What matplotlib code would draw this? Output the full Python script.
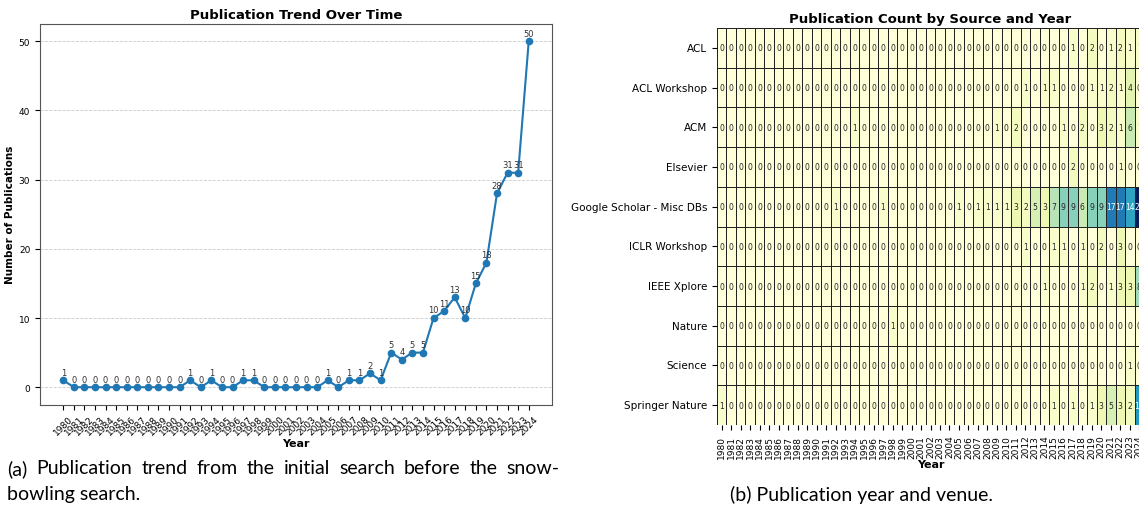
import matplotlib
matplotlib.use('Agg')
import matplotlib.pyplot as plt
import pandas as pd
import seaborn as sns

W, H = 1139, 510

# Years covered by both panels
years = list(range(1980, 2025))

# Publications per year from the initial search (left panel)
trend = [1, 0, 0, 0, 0, 0, 0, 0, 0, 0,
         0, 0, 1, 0, 1, 0, 0, 1, 1, 0,
         0, 0, 0, 0, 0, 1, 0, 1, 1, 2,
         1, 5, 4, 5, 5, 10, 11, 13, 10, 15,
         18, 28, 31, 31, 50]

# Per source counts (right panel), one list per source, 1980..2024
sources = ['ACL', 'ACL Workshop', 'ACM', 'Elsevier', 'Google Scholar - Misc DBs',
           'ICLR Workshop', 'IEEE Xplore', 'Nature', 'Science', 'Springer Nature']
acl =          [0,0,0,0,0,0,0,0,0,0, 0,0,0,0,0,0,0,0,0,0, 0,0,0,0,0,0,0,0,0,0, 0,0,0,0,0,0,0,1,0,2, 0,1,2,1,1]
acl_workshop = [0,0,0,0,0,0,0,0,0,0, 0,0,0,0,0,0,0,0,0,0, 0,0,0,0,0,0,0,0,0,0, 0,0,1,0,1,1,0,0,0,1, 1,2,1,4,0]
acm =          [0,0,0,0,0,0,0,0,0,0, 0,0,0,0,1,0,0,0,0,0, 0,0,0,0,0,0,0,0,0,1, 0,2,0,0,0,0,1,0,2,0, 3,2,1,6,1]
elsevier =     [0,0,0,0,0,0,0,0,0,0, 0,0,0,0,0,0,0,0,0,0, 0,0,0,0,0,0,0,0,0,0, 0,0,0,0,0,0,0,2,0,0, 0,0,1,0,0]
google =       [0,0,0,0,0,0,0,0,0,0, 0,0,1,0,0,0,0,1,0,0, 0,0,0,0,0,1,0,1,1,1, 1,3,2,5,3,7,9,9,6,9, 9,17,17,14,25]
iclr_workshop= [0,0,0,0,0,0,0,0,0,0, 0,0,0,0,0,0,0,0,0,0, 0,0,0,0,0,0,0,0,0,0, 0,0,1,0,0,1,1,0,1,0, 2,0,3,0,0]
ieee =         [0,0,0,0,0,0,0,0,0,0, 0,0,0,0,0,0,0,0,0,0, 0,0,0,0,0,0,0,0,0,0, 0,0,0,0,1,0,0,0,1,2, 0,1,3,3,8]
nature =       [0,0,0,0,0,0,0,0,0,0, 0,0,0,0,0,0,0,0,1,0, 0,0,0,0,0,0,0,0,0,0, 0,0,0,0,0,0,0,0,0,0, 0,0,0,0,0]
science =      [0,0,0,0,0,0,0,0,0,0, 0,0,0,0,0,0,0,0,0,0, 0,0,0,0,0,0,0,0,0,0, 0,0,0,0,0,0,0,0,0,0, 0,0,0,1,0]
springer =     [1,0,0,0,0,0,0,0,0,0, 0,0,0,0,0,0,0,0,0,0, 0,0,0,0,0,0,0,0,0,0, 0,0,0,0,0,1,0,1,0,1, 3,5,3,2,15]

counts = pd.DataFrame([acl, acl_workshop, acm, elsevier, google, iclr_workshop,
                       ieee, nature, science, springer], index=sources, columns=years)

fig = plt.figure(figsize=(W / 100, H / 100), dpi=100)

def px_axes(x0, y0, x1, y1):
    # axes from pixel box (top-left origin)
    return fig.add_axes([x0 / W, 1 - y1 / H, (x1 - x0) / W, (y1 - y0) / H])

# Left: trend line
ax1 = px_axes(40, 25, 552, 405.5)
ax1.plot(years, trend, marker='o', color='#1f77b4', markersize=4.5, linewidth=1.5)
for x, y in zip(years, trend):
    ax1.annotate(str(y), (x, y), textcoords='offset points', xytext=(0, 4),
                 ha='center', fontsize=6, color='#333333')
ax1.set_xticks(years)
ax1.set_xticklabels(years, rotation=45, fontsize=6.5)
ax1.tick_params(axis='y', labelsize=6.5)
ax1.grid(axis='y', linestyle='--', color='#cccccc', linewidth=0.6)
ax1.set_title('Publication Trend Over Time', fontsize=9.5, fontweight='bold', pad=4)
ax1.set_xlabel('Year', fontsize=8, fontweight='bold', labelpad=1)
ax1.set_ylabel('Number of Publications', fontsize=7.5, fontweight='bold', labelpad=3)
for s in ax1.spines.values():
    s.set_color('#555555')

# Right: heatmap (runs past the right edge, like the cropped original)
ax2 = px_axes(717, 29, 1144, 426)
sns.heatmap(counts, annot=True, fmt='d', cmap='YlGnBu', linewidths=0.5, linecolor='#222222',
            cbar=False, annot_kws={'size': 5.5}, ax=ax2)
ax2.set_title('Publication Count by Source and Year', fontsize=9.5, fontweight='bold', pad=4)
ax2.set_xlabel('Year', fontsize=8, fontweight='bold', labelpad=1)
ax2.set_ylabel('')
ax2.set_xticks([i + 0.5 for i in range(len(years))])
ax2.set_xticklabels(years, rotation=90, fontsize=6.5)
ax2.tick_params(axis='y', labelsize=7.5, rotation=0)

# Captions
cap = dict(fontsize=14, family='Lato', color='black', va='center')

def justified(line, x0, x1, y):
    # spread the words of a caption line between x0 and x1 (pixels)
    words = line.split(' ')
    texts = [fig.text(0, 1 - y / H, w, **cap) for w in words]
    r = fig.canvas.get_renderer()
    widths = [t.get_window_extent(r).width for t in texts]
    gap = (x1 - x0 - sum(widths)) / (len(words) - 1)
    x = x0
    for t, w in zip(texts, widths):
        t.set_x(x / W)
        x += w + gap

justified('(a) Publication trend from the initial search before the snow-', 7, 560, 469)
fig.text(7 / W, 1 - 495 / H, 'bowling search.', **cap)
fig.text(730 / W, 1 - 495 / H, '(b) Publication year and venue.', **cap)

fig.savefig('out.png', dpi=100)
